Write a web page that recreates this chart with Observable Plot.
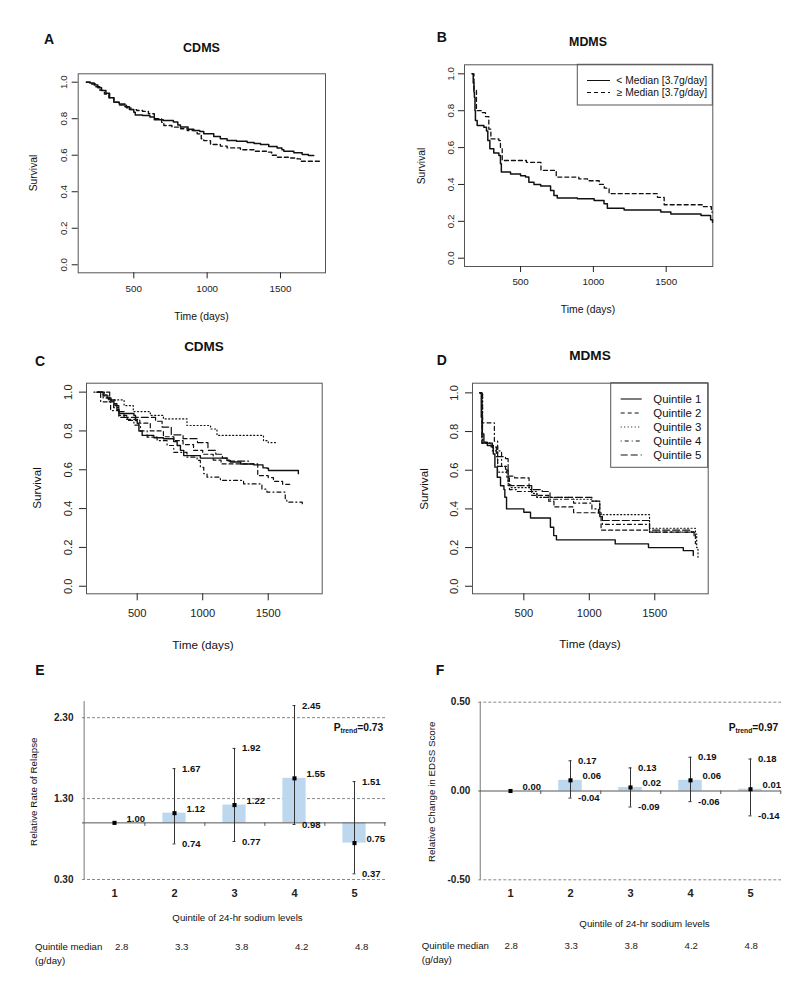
<!DOCTYPE html>
<html><head><meta charset="utf-8">
<script src="https://cdn.jsdelivr.net/npm/d3@7"></script>
<script src="https://cdn.jsdelivr.net/npm/@observablehq/plot@0.6"></script>
<style>
html,body{margin:0;padding:0;background:#fff;}
#root{position:relative;width:800px;height:988px;overflow:hidden;font-family:"Liberation Sans",Arial,Helvetica,sans-serif;background:#fff;}
.panel{position:absolute;}
.panel svg{display:block;overflow:visible;max-width:none;}
#overlay{position:absolute;left:0;top:0;pointer-events:none;}
</style></head><body><div id="root"></div>
<script>
// ---------------- DATA ----------------
// Kaplan-Meier curves: [time (days), survival]
const cdmsBelow = [[177,1],[200,0.995],[230,0.985],[255,0.97],[280,0.955],[310,0.94],[335,0.915],[364,0.89],[400,0.88],[440,0.865],[470,0.85],[500,0.836],[510,0.82],[560,0.818],[610,0.81],[640,0.795],[700,0.79],[770,0.782],[800,0.765],[818,0.754],[870,0.742],[909,0.735],[950,0.73],[977,0.717],[1045,0.703],[1090,0.69],[1136,0.68],[1200,0.676],[1273,0.67],[1320,0.664],[1364,0.659],[1420,0.648],[1477,0.64],[1510,0.63],[1523,0.622],[1591,0.613],[1648,0.604],[1690,0.598],[1727,0.598]];
const cdmsAbove = [[177,1],[210,0.99],[240,0.975],[270,0.955],[300,0.935],[330,0.915],[364,0.89],[400,0.875],[450,0.86],[480,0.85],[520,0.845],[560,0.84],[600,0.827],[640,0.8],[690,0.78],[705,0.763],[760,0.754],[820,0.745],[864,0.735],[932,0.717],[960,0.69],[977,0.68],[1023,0.659],[1090,0.65],[1136,0.64],[1227,0.63],[1320,0.622],[1409,0.617],[1440,0.6],[1477,0.589],[1560,0.585],[1614,0.58],[1636,0.567],[1773,0.567]];
const mdmsBelow = [[167,1],[175,0.95],[180,0.9],[183,0.873],[187,0.8],[190,0.747],[202,0.72],[248,0.71],[266,0.69],[275,0.638],[289,0.593],[316,0.57],[351,0.557],[362,0.512],[368,0.467],[431,0.457],[500,0.447],[534,0.44],[557,0.412],[592,0.40],[638,0.392],[706,0.367],[729,0.34],[752,0.327],[890,0.322],[1005,0.313],[1073,0.295],[1096,0.271],[1211,0.262],[1463,0.251],[1532,0.24],[1739,0.231],[1805,0.208],[1818,0.195]];
const mdmsAbove = [[167,1],[180,0.91],[197,0.80],[235,0.79],[259,0.768],[282,0.70],[296,0.647],[351,0.638],[362,0.593],[374,0.53],[540,0.52],[640,0.476],[745,0.44],[900,0.43],[960,0.42],[1040,0.40],[1075,0.38],[1108,0.35],[1440,0.33],[1486,0.29],[1750,0.28],[1810,0.25],[1818,0.25]];

const cdmsQ1 = [[200,1],[240,0.985],[270,0.97],[300,0.955],[322,0.94],[345,0.91],[360,0.89],[475,0.88],[487,0.854],[500,0.84],[513,0.80],[538,0.777],[627,0.765],[700,0.76],[779,0.745],[805,0.725],[830,0.70],[855,0.673],[982,0.66],[1185,0.648],[1210,0.64],[1290,0.63],[1390,0.625],[1460,0.61],[1490,0.608],[1502,0.596],[1726,0.596],[1730,0.58]];
const cdmsQ2 = [[200,1],[240,0.97],[280,0.95],[320,0.92],[360,0.88],[420,0.86],[520,0.84],[600,0.80],[700,0.77],[780,0.75],[850,0.73],[930,0.70],[1000,0.68],[1080,0.65],[1140,0.63],[1300,0.63],[1420,0.57],[1500,0.56],[1540,0.54],[1610,0.525],[1667,0.52]];
const cdmsQ3 = [[170,1],[250,0.98],[290,0.96],[400,0.93],[470,0.90],[600,0.88],[700,0.862],[880,0.828],[1060,0.81],[1109,0.777],[1439,0.777],[1464,0.75],[1500,0.74],[1561,0.74]];
const cdmsQ4 = [[200,1],[221,0.95],[297,0.905],[360,0.87],[424,0.854],[475,0.83],[525,0.80],[576,0.768],[652,0.75],[728,0.725],[779,0.69],[880,0.665],[957,0.648],[982,0.613],[1008,0.58],[1033,0.562],[1135,0.545],[1312,0.527],[1452,0.50],[1490,0.485],[1630,0.45],[1642,0.433],[1756,0.433],[1760,0.42]];
const cdmsQ5 = [[190,1],[290,0.96],[330,0.93],[360,0.90],[400,0.87],[640,0.85],[690,0.82],[760,0.78],[850,0.76],[960,0.74],[1040,0.70],[1100,0.68],[1150,0.66],[1200,0.645],[1350,0.645]];

const mdmsQ1 = [[165,1],[175,0.874],[183,0.788],[195,0.745],[221,0.728],[267,0.684],[279,0.616],[297,0.564],[322,0.52],[348,0.50],[355,0.46],[368,0.40],[500,0.383],[551,0.353],[703,0.305],[728,0.262],[749,0.24],[1198,0.219],[1452,0.20],[1718,0.184],[1794,0.159]];
const mdmsQ2 = [[165,1],[180,0.74],[250,0.72],[300,0.62],[360,0.60],[380,0.57],[430,0.56],[540,0.50],[560,0.47],[690,0.44],[730,0.41],[880,0.38],[1000,0.38],[1090,0.29],[1440,0.29],[1460,0.28],[1800,0.27],[1810,0.22]];
const mdmsQ3 = [[165,1],[185,0.74],[260,0.70],[300,0.59],[380,0.53],[400,0.51],[560,0.49],[600,0.46],[880,0.45],[1020,0.44],[1080,0.37],[1440,0.37],[1460,0.30],[1790,0.30],[1810,0.27],[1820,0.20],[1830,0.15]];
const mdmsQ4 = [[165,1],[185,0.845],[265,0.845],[275,0.75],[300,0.70],[330,0.62],[370,0.56],[390,0.50],[450,0.49],[560,0.48],[600,0.46],[700,0.45],[880,0.43],[1020,0.40],[1070,0.37],[1100,0.32],[1440,0.32],[1460,0.28],[1800,0.27]];
const mdmsQ5 = [[165,1],[180,0.74],[260,0.72],[290,0.67],[360,0.66],[380,0.52],[560,0.50],[640,0.49],[700,0.46],[870,0.46],[1020,0.44],[1080,0.36],[1100,0.34],[1440,0.34],[1460,0.29],[1780,0.28],[1800,0.26]];

const survXTicks = [500, 1000, 1500];
const survYTicks = [0, 0.2, 0.4, 0.6, 0.8, 1.0];

// Panels E/F
const quintiles = [1, 2, 3, 4, 5];
const relapseEst = [1.00, 1.12, 1.22, 1.55, 0.75];
const relapseLo  = [null, 0.74, 0.77, 0.98, 0.37];
const relapseHi  = [null, 1.67, 1.92, 2.45, 1.51];
const relapseTicks = [0.30, 1.30, 2.30];
const edssEst = [0.00, 0.06, 0.02, 0.06, 0.01];
const edssLo  = [null, -0.04, -0.09, -0.06, -0.14];
const edssHi  = [null, 0.17, 0.13, 0.19, 0.18];
const edssTicks = [-0.50, 0.00, 0.50];
const quintileMedians = ["2.8", "3.3", "3.8", "4.2", "4.8"];
const legendB = ["< Median [3.7g/day]", "\u2265 Median [3.7g/day]"];
const legendD = ["Quintile 1", "Quintile 2", "Quintile 3", "Quintile 4", "Quintile 5"];

// ---------------- RENDER ----------------
const FONT = '"Liberation Sans", Arial, Helvetica, sans-serif';
const root = document.getElementById("root");
const DASH = {solid: null, dashed: "4,3", dotted: "1,2.5", dotdash: "1,3,4,3", longdash: "7,3"};

function place(node, left, top) {
  const d = document.createElement("div");
  d.className = "panel";
  d.style.left = left + "px";
  d.style.top = top + "px";
  d.appendChild(node);
  root.appendChild(d);
}

function survPanel(o) {
  const marks = [
    Plot.frame({stroke: "#555"}),
    Plot.axisX({ticks: survXTicks, tickSize: o.tick, tickPadding: o.padX, tickFormat: d => String(d), fontSize: o.fs, label: null}),
    Plot.axisY({ticks: survYTicks, tickSize: o.tick, tickRotate: -90, tickPadding: o.padY, tickFormat: d => d.toFixed(1), fontSize: o.fs, label: null}),
    ...o.series.map(s => Plot.line(s.data, {x: d => d[0], y: d => d[1], curve: "step-after", stroke: "#111", strokeWidth: s.w || 1.2, strokeDasharray: DASH[s.dash]}))
  ];
  const p = Plot.plot({
    width: o.width, height: o.height,
    marginLeft: o.mL, marginRight: o.mR, marginTop: o.mT, marginBottom: o.mB,
    x: {domain: o.xDomain}, y: {domain: o.yDomain},
    style: {fontFamily: FONT, color: "#222", background: "transparent", overflow: "visible"},
    marks
  });
  place(p, o.left, o.top);
}

// A
survPanel({left: 0, top: 30, width: 370, height: 290, mL: 77.7, mR: 45, mT: 43.3, mB: 47.7,
  xDomain: [121, 1807], yDomain: [-0.044, 1.046], tick: 6, padX: 6, padY: 5, fs: 9.8,
  series: [{data: cdmsBelow, dash: "solid", w: 1.5}, {data: cdmsAbove, dash: "dashed", w: 1.4}]});
// B
survPanel({left: 400, top: 30, width: 350, height: 280, mL: 64, mR: 37.7, mT: 34.3, mB: 44,
  xDomain: [115, 1820], yDomain: [-0.045, 1.049], tick: 6, padX: 6, padY: 5, fs: 9.8,
  series: [{data: mdmsBelow, dash: "solid", w: 1.5}, {data: mdmsAbove, dash: "dashed", w: 1.3}]});
// C
survPanel({left: 0, top: 330, width: 360, height: 300, mL: 86, mR: 38.3, mT: 52.7, mB: 36.7,
  xDomain: [113, 1912], yDomain: [-0.039, 1.046], tick: 7, padX: 8, padY: 8, fs: 11.2,
  series: [{data: cdmsQ1, dash: "solid", w: 1.4}, {data: cdmsQ2, dash: "dashed"}, {data: cdmsQ3, dash: "dotted"}, {data: cdmsQ4, dash: "dotdash"}, {data: cdmsQ5, dash: "longdash"}]});
// D
survPanel({left: 400, top: 330, width: 340, height: 300, mL: 72, mR: 32.3, mT: 52.7, mB: 36.7,
  xDomain: [108, 1908], yDomain: [-0.039, 1.05], tick: 7, padX: 8, padY: 8, fs: 11.2,
  series: [{data: mdmsQ1, dash: "solid", w: 1.4}, {data: mdmsQ2, dash: "dashed"}, {data: mdmsQ3, dash: "dotted"}, {data: mdmsQ4, dash: "dotdash"}, {data: mdmsQ5, dash: "longdash"}]});

function effectPanel(o) {
  const rows = quintiles.map((q, i) => ({q, est: o.est[i], lo: o.lo[i], hi: o.hi[i], med: quintileMedians[i]}));
  const ci = rows.filter(d => d.lo != null);
  const plotW = o.width - o.mL - o.mR, plotH = o.height - o.mT - o.mB;
  const bw = plotW / quintiles.length;
  const span = o.yDomain[1] - o.yDomain[0];
  const tickLen = 3.5 * span / plotH;
  const fmt = d => d.toFixed(2);
  const lab = {fontWeight: "bold", fontSize: 9.5, fill: "#111", textAnchor: "start"};
  const p = Plot.plot({
    width: o.width, height: o.height,
    marginLeft: o.mL, marginRight: o.mR, marginTop: o.mT, marginBottom: o.mB,
    x: {type: "band", domain: quintiles, padding: 0},
    y: {domain: o.yDomain},
    style: {fontFamily: FONT, color: "#222", background: "transparent", overflow: "visible"},
    marks: [
      Plot.ruleY(o.grid, {stroke: "#888", strokeDasharray: "3,2"}),
      Plot.barY(rows, {x: "q", y1: o.base, y2: "est", fill: "#bdd7ee", insetLeft: (bw - 24) / 2, insetRight: (bw - 24) / 2}),
      Plot.ruleX([quintiles[0]], {dx: -bw / 2, stroke: "#777"}),
      Plot.ruleY([o.base], {stroke: "#555"}),
      Plot.ruleX(quintiles, {x: d => d, y1: o.base, y2: o.base - tickLen, dx: bw / 2, stroke: "#555"}),
      Plot.ruleX(ci, {x: "q", y1: "lo", y2: "hi", stroke: "#333", strokeWidth: 1}),
      Plot.tickY(ci, {x: "q", y: "hi", stroke: "#333", insetLeft: bw / 2 - 1.8, insetRight: bw / 2 - 1.8}),
      Plot.tickY(ci, {x: "q", y: "lo", stroke: "#333", insetLeft: bw / 2 - 1.8, insetRight: bw / 2 - 1.8}),
      Plot.dot(rows, {x: "q", y: "est", symbol: "square", r: 2.3, fill: "#000"}),
      Plot.text(ci, {x: "q", y: "hi", text: d => fmt(d.hi), dx: 7.5, ...lab}),
      Plot.text(ci, {x: "q", y: "lo", text: d => fmt(d.lo), dx: 7.5, ...lab}),
      Plot.text(rows, {x: "q", y: "est", text: d => fmt(d.est), dx: 12, dy: -4, ...lab}),
      Plot.axisY({ticks: o.ticks, tickSize: 0, tickPadding: o.padY, tickFormat: fmt, fontWeight: "bold", fontSize: 10, label: null}),
      Plot.axisX({tickSize: 0, tickPadding: 9.5, fontWeight: "bold", fontSize: 11, label: null}),
      Plot.text(rows, {x: "q", y: () => o.yDomain[0], text: "med", dy: o.medDy, dx: o.medDx, textAnchor: "start", fontSize: 9.7, fill: "#222"})
    ]
  });
  place(p, o.left, o.top);
}

// E
effectPanel({left: 0, top: 680, width: 400, height: 308, mL: 82, mR: 14.3, mT: 21, mB: 109,
  yDomain: [0.3, 2.5], base: 1.0, grid: [2.3, 1.3, 0.3], ticks: relapseTicks,
  est: relapseEst, lo: relapseLo, hi: relapseHi, padY: 9, medDy: 67.7, medDx: 0.5});
// F
effectPanel({left: 400, top: 680, width: 400, height: 308, mL: 78.3, mR: 19, mT: 21.7, mB: 108.7,
  yDomain: [-0.5, 0.5], base: 0.0, grid: [0.5, -0.5], ticks: edssTicks,
  est: edssEst, lo: edssLo, hi: edssHi, padY: 8.5, medDy: 65.7, medDx: -6});

// ---------------- ANNOTATIONS ----------------
const ov = d3.select(root).append("svg").attr("id", "overlay").attr("width", 800).attr("height", 988)
  .style("font-family", FONT);
function txt(s, x, y, {size = 10, weight = "normal", anchor = "middle", rotate = 0} = {}) {
  const t = ov.append("text").attr("x", x).attr("y", y).attr("font-size", size).attr("font-weight", weight)
    .attr("text-anchor", anchor).attr("dominant-baseline", "central").attr("fill", "#111").text(s);
  if (rotate) t.attr("transform", `rotate(${rotate},${x},${y})`);
  return t;
}
function ptrend(x, y, val) {
  const t = ov.append("text").attr("x", x).attr("y", y).attr("text-anchor", "end").attr("font-weight", "bold")
    .attr("font-size", 10.3).attr("dominant-baseline", "central").attr("fill", "#111");
  t.append("tspan").text("P");
  t.append("tspan").attr("font-size", 6.7).attr("dy", 2.5).text("trend");
  t.append("tspan").attr("dy", -2.5).text("=" + val);
}

// A
txt("A", 49, 39, {size: 14, weight: "bold"});
txt("CDMS", 201.5, 48.3, {size: 12.5, weight: "bold"});
txt("Survival", 33, 173, {size: 10.3, rotate: -90});
txt("Time (days)", 201.5, 316, {size: 10.4});
// B
txt("B", 441.7, 36.7, {size: 14, weight: "bold"});
txt("MDMS", 588, 41.7, {size: 12.4, weight: "bold"});
txt("Survival", 421.7, 166, {size: 10.3, rotate: -90});
txt("Time (days)", 588, 309, {size: 10.4});
ov.append("rect").attr("x", 577.3).attr("y", 64.3).attr("width", 135).attr("height", 40.7).attr("fill", "none").attr("stroke", "#555");
[["solid", 80.5], ["dashed", 92.5]].forEach(([k, y], i) => {
  ov.append("line").attr("x1", 587).attr("x2", 610).attr("y1", y).attr("y2", y).attr("stroke", "#111").attr("stroke-width", 1)
    .attr("stroke-dasharray", DASH[k]);
  txt(legendB[i], 707, y, {size: 10.3, anchor: "end"});
});
// C
txt("C", 40, 360.7, {size: 14, weight: "bold"});
txt("CDMS", 204, 346, {size: 13.5, weight: "bold"});
txt("Survival", 36.7, 488, {size: 11.7, rotate: -90});
txt("Time (days)", 203, 644, {size: 11.7});
// D
txt("D", 441.7, 360, {size: 14, weight: "bold"});
txt("MDMS", 590, 355, {size: 13.6, weight: "bold"});
txt("Survival", 423, 489, {size: 11.7, rotate: -90});
txt("Time (days)", 590, 643, {size: 11.7});
ov.append("rect").attr("x", 610.7).attr("y", 382.7).attr("width", 97).attr("height", 84.6).attr("fill", "none").attr("stroke", "#555");
["solid", "dashed", "dotted", "dotdash", "longdash"].forEach((k, i) => {
  const y = 399 + i * 14;
  ov.append("line").attr("x1", 620.7).attr("x2", 641.7).attr("y1", y).attr("y2", y).attr("stroke", "#111").attr("stroke-width", 1.1)
    .attr("stroke-dasharray", DASH[k]);
  txt(legendD[i], 653.3, y, {size: 11.4, anchor: "start"});
});
// E
txt("E", 40, 670, {size: 14, weight: "bold"});
txt("Relative Rate of Relapse", 33.3, 791.7, {size: 9.8, rotate: -90});
ptrend(383.3, 727.3, "0.73");
txt("Quintile of 24-hr sodium levels", 237.5, 917.3, {size: 9.7});
txt("Quintile median", 35, 946.7, {size: 9.7, anchor: "start"});
txt("(g/day)", 35, 960.7, {size: 9.7, anchor: "start"});
// F
txt("F", 440, 670, {size: 14, weight: "bold"});
txt("Relative Change in EDSS Score", 431.7, 791.7, {size: 9.8, rotate: -90});
ptrend(778.3, 727.3, "0.97");
txt("Quintile of 24-hr sodium levels", 644.5, 923.3, {size: 9.7});
txt("Quintile median", 421.7, 945, {size: 9.7, anchor: "start"});
txt("(g/day)", 421.7, 959.3, {size: 9.7, anchor: "start"});
</script></body></html>
